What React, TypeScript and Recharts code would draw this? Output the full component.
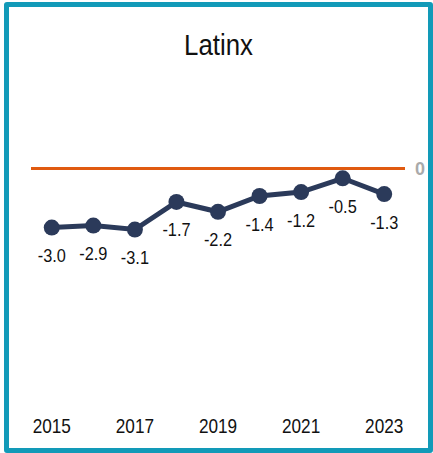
import { LineChart, Line, XAxis, YAxis, ReferenceLine } from "recharts"

const years = [2015, 2016, 2017, 2018, 2019, 2020, 2021, 2022, 2023]
const values = [-3.0, -2.9, -3.1, -1.7, -2.2, -1.4, -1.2, -0.5, -1.3]
const yearTicks = [2015, 2017, 2019, 2021, 2023]

const chartData = years.map((year, i) => ({ year, value: values[i] }))

const font = "'Liberation Sans', Arial, sans-serif"
const squeeze = 0.86

// the original uses a condensed face, so squeeze the regular one horizontally
const YearTick = (props: any) => {
  const { x, y, payload } = props
  return (
    <text
      transform={`translate(${x},${y}) scale(${squeeze},1)`}
      textAnchor="middle"
      dy="0.71em"
      fill="#111"
      fontSize={20}
      fontFamily={font}
    >
      {payload.value}
    </text>
  )
}

const ValueLabel = (props: any) => {
  const { x, y, value } = props
  return (
    <text
      transform={`translate(${x},${y + 21}) scale(${squeeze},1)`}
      textAnchor="middle"
      dy="0.71em"
      fill="#111"
      fontSize={19}
      fontFamily={font}
    >
      {Number(value).toFixed(1)}
    </text>
  )
}

export default function App() {
  return (
    <div style={{ position: "absolute", left: 0, top: 0, width: 433, height: 453, background: "#fff" }}>
      <div
        style={{
          position: "absolute",
          left: 4,
          top: 2,
          width: 429,
          height: 451,
          boxSizing: "border-box",
          border: "5px solid #129ab8",
          borderRadius: 3,
        }}
      />
      <div
        style={{
          position: "absolute",
          left: 0,
          top: 28,
          width: 437,
          textAlign: "center",
          fontFamily: font,
          fontSize: 30,
          lineHeight: "34px",
          color: "#111",
          transform: `scaleX(${squeeze})`,
        }}
      >
        Latinx
      </div>
      <div style={{ position: "absolute", left: 0, top: 0 }}>
        <LineChart width={433} height={453} data={chartData} margin={{ top: 129, right: 28, left: 31, bottom: 8 }}>
          <XAxis
            dataKey="year"
            type="number"
            domain={[2014.5, 2023.5]}
            ticks={yearTicks}
            axisLine={false}
            tickLine={false}
            tickMargin={8}
            tick={<YearTick />}
            height={40}
            interval={0}
          />
          <YAxis hide domain={[-12, 2]} />
          <ReferenceLine
            y={0}
            stroke="#e05a10"
            strokeWidth={3}
            label={{ value: "0", position: "right", offset: 10, fill: "#aaa", fontSize: 18, fontWeight: "bold", fontFamily: font }}
          />
          <Line
            dataKey="value"
            stroke="#2b3a5a"
            strokeWidth={5}
            dot={{ r: 8, fill: "#2b3a5a", stroke: "#2b3a5a", strokeWidth: 0 }}
            label={<ValueLabel />}
            isAnimationActive={false}
          />
        </LineChart>
      </div>
    </div>
  )
}
